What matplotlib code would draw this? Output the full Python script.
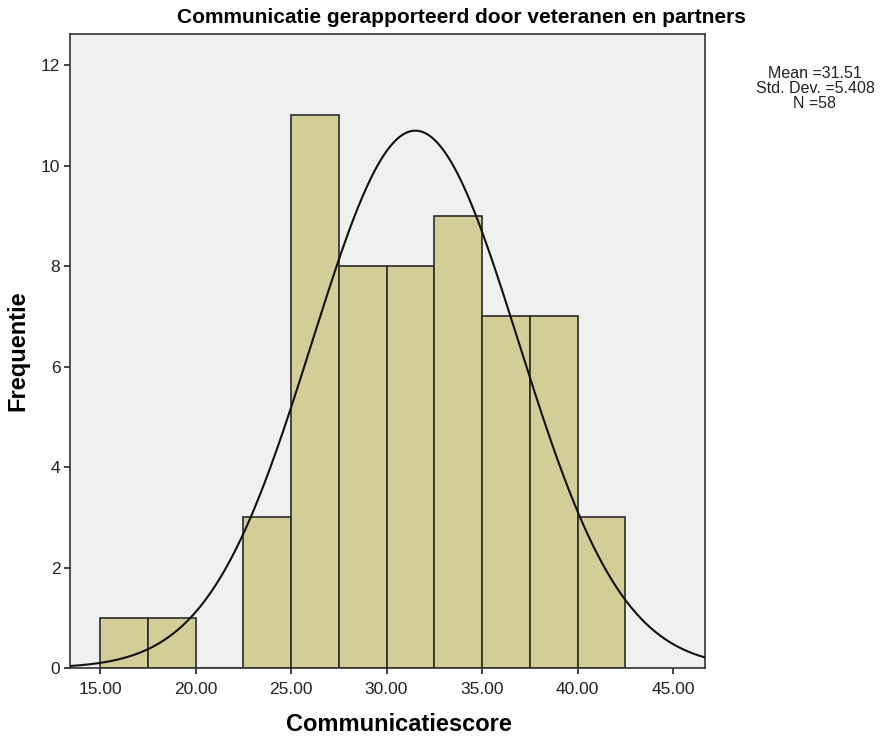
import matplotlib.pyplot as plt
import numpy as np

# histogram data (SPSS output)
bin_edges = [15.0, 17.5, 20.0, 22.5, 25.0, 27.5, 30.0, 32.5, 35.0, 37.5, 40.0, 42.5]
counts = [1, 1, 0, 3, 11, 8, 8, 9, 7, 7, 3]
mean = 31.51
std = 5.408
n = 58
x_ticks = [15, 20, 25, 30, 35, 40, 45]
x_ticklabels = ['15.00', '20.00', '25.00', '30.00', '35.00', '40.00', '45.00']
y_ticks = [0, 2, 4, 6, 8, 10, 12]

plt.rcParams['font.family'] = ['Liberation Sans', 'DejaVu Sans']

fig = plt.figure(figsize=(8.82, 7.4), dpi=100)
ax = fig.add_axes([0.0794, 0.0973, 0.7196, 0.8567])
ax.set_facecolor('#f0f0f0')

widths = np.diff(bin_edges)
ax.bar(bin_edges[:-1], counts, width=widths, align='edge',
       color='#d3ce97', edgecolor='#2b2b2b', linewidth=1.2, zorder=2)

# fitted normal curve
xmin, xmax = 13.43, 46.66
xs = np.linspace(xmin, xmax, 400)
bw = bin_edges[1] - bin_edges[0]
ys = n * bw / (std * np.sqrt(2 * np.pi)) * np.exp(-0.5 * ((xs - mean) / std) ** 2)
ax.plot(xs, ys, color='#111111', linewidth=1.5, zorder=3)

ax.set_xlim(xmin, xmax)
ax.set_ylim(0, 12.62)
ax.set_xticks(x_ticks)
ax.set_xticklabels(x_ticklabels)
ax.set_yticks(y_ticks)
ax.tick_params(direction='out', length=4, width=1.2, color='#222222',
               labelsize=12.5, labelcolor='#222222', pad=3)
ax.tick_params(axis='x', pad=6)
for s in ax.spines.values():
    s.set_color('#333333')
    s.set_linewidth(1.2)

ax.set_xlabel('Communicatiescore', fontsize=17, fontweight='bold')
ax.xaxis.set_label_coords(0.518, -0.071)
ax.set_ylabel('Frequentie', fontsize=17, fontweight='bold')
ax.yaxis.set_label_coords(-0.064, 0.5)

fig.text(0.523, 0.976, 'Communicatie gerapporteerd door veteranen en partners',
         ha='center', va='center', fontsize=15, fontweight='bold')
fig.text(0.924, 0.881, 'Mean =%.2f\nStd. Dev. =%.3f\nN =%d' % (mean, std, n),
         ha='center', va='center', fontsize=11.5, linespacing=1.0, color='#222222')

plt.savefig('out.png', dpi=100)
